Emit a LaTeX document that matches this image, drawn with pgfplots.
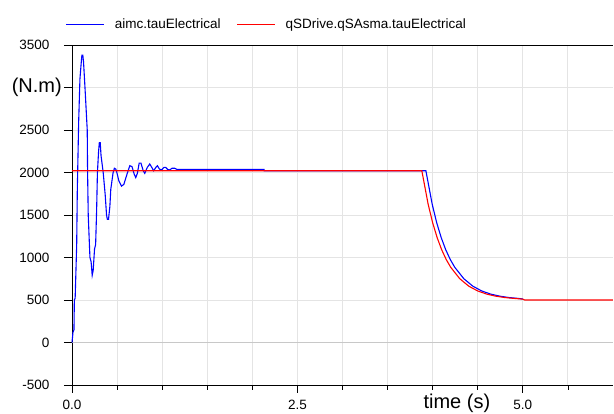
\documentclass[border=0pt]{standalone}
\usepackage{pgfplots}
\pgfplotsset{compat=1.18}
\usepackage{fontspec}
\setmainfont{Liberation Sans}
\definecolor{gridc}{RGB}{228,228,228}
\definecolor{zeroc}{RGB}{200,200,200}
\begin{document}
\begin{tikzpicture}
\begin{axis}[
 width=541pt, height=340pt, scale only axis,
 xmin=0, xmax=6, ymin=-500, ymax=3500,
 clip=false,
 axis x line*=bottom, axis y line*=left,
 axis line style={black, line width=0.9pt, -},
 xtick={0,2.5,5}, xticklabels={0.0,2.5,5.0},
 minor xtick={0.5,1,1.5,2,3,3.5,4,4.5,5.5},
 ytick={-500,0,500,1000,1500,2000,2500,3000,3500},
 yticklabels={-500,0,500,1000,1500,2000,2500,,3500},
 tick align=outside,
 major tick length=8pt, minor tick length=5pt,
 tick style={black, line width=0.8pt},
 grid=both,
 major grid style={gridc, line width=0.9pt},
 minor grid style={gridc, line width=0.9pt},
 ticklabel style={font=\fontsize{13.5}{14}\selectfont},
 yticklabel style={xshift=-11pt},
 xticklabel style={yshift=-4pt},
 /pgf/number format/assume math mode=true,
 xlabel={time (s)},
 xlabel style={at={(axis description cs:0.7115,0)}, anchor=base, yshift=-24pt, font=\fontsize{20}{20}\selectfont},
 legend style={at={(axis description cs:0.36,1)}, anchor=south, yshift=11pt, draw=none, fill=none, font=\fontsize{13.5}{14}\selectfont, /tikz/every even column/.append style={column sep=14pt}, /tikz/every odd column/.append style={column sep=8pt}},
 legend columns=2,
 after end axis/.code={\draw[black, line width=0.9pt] (rel axis cs:0,1) -- (rel axis cs:1,1);},
]
\draw[zeroc, line width=1.5pt] (axis cs:0,0) -- (axis cs:6,0);
\addplot[blue, line width=1.1pt, legend image code/.code={\draw[blue, line width=1.1pt] (0pt,0pt) -- (38pt,0pt);}] coordinates {
(0,0) (0.011,120) (0.022,150) (0.026,500) (0.035,520) (0.052,1150) (0.059,1800) (0.074,2600) (0.088,3100) (0.103,3300) (0.110,3380) (0.120,3380) (0.128,3300) (0.144,3000) (0.169,2500) (0.173,2000) (0.180,1500) (0.199,1000) (0.212,950) (0.224,790) (0.235,850) (0.250,1100) (0.262,1150) (0.273,1550) (0.282,2000) (0.295,2250) (0.303,2350) (0.313,2350) (0.322,2200) (0.346,2000) (0.368,1740) (0.383,1500) (0.392,1450) (0.405,1450) (0.420,1600) (0.430,1800) (0.456,2000) (0.470,2050) (0.486,2040) (0.500,1990) (0.520,1900) (0.549,1840) (0.575,1860) (0.610,1980) (0.641,2080) (0.665,2070) (0.690,1980) (0.707,1940) (0.725,1990) (0.745,2110) (0.765,2110) (0.790,2020) (0.807,1990) (0.835,2060) (0.862,2100) (0.885,2060) (0.906,2020) (0.930,2060) (0.947,2080) (0.970,2040) (0.994,2030) (1.020,2060) (1.039,2060) (1.062,2035) (1.083,2030) (1.110,2050) (1.138,2050) (1.165,2036) (1.193,2035) (2.13,2035) (2.13,2020) (3.925,2020) (3.995,1626) (4.045,1408) (4.095,1233) (4.145,1091) (4.195,977) (4.245,885) (4.345,751) (4.445,663) (4.545,606) (4.645,569) (4.745,545) (4.845,529) (4.945,519) (5.0,512)
};
\addlegendentry{aimc.tauElectrical}
\addplot[red, line width=1.1pt, legend image code/.code={\draw[red, line width=1.1pt] (0pt,0pt) -- (38pt,0pt);}] coordinates {
(0,2020) (3.88,2020) (3.95,1626) (4.0,1408) (4.05,1233) (4.1,1091) (4.15,977) (4.2,885) (4.3,751) (4.4,663) (4.5,606) (4.6,569) (4.7,545) (4.8,529) (4.9,519) (5.0,510) (5.02,500) (6,500)
};
\addlegendentry{qSDrive.qSAsma.tauElectrical}
\node[anchor=east, font=\fontsize{20}{20}\selectfont, inner sep=0pt] at (axis cs:0,3000) [xshift=-10pt] {(N.m)};
\end{axis}
\pgfresetboundingbox
\path[use as bounding box] (-72pt,-29pt) rectangle (542pt,385pt);
\end{tikzpicture}
\end{document}
